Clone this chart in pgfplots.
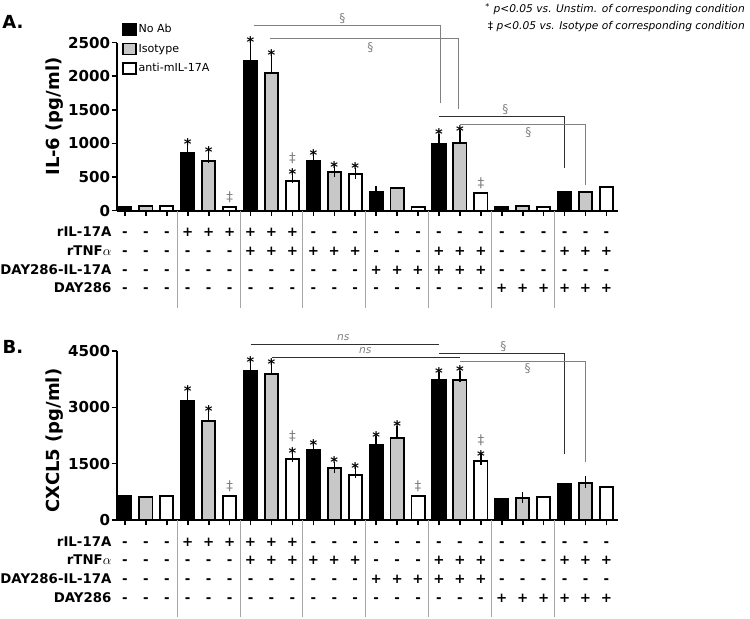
\documentclass[border=0pt]{standalone}
\usepackage{pgfplots}
\pgfplotsset{compat=1.18}
\usepackage{fontspec}
\setmainfont{DejaVu Sans}

\definecolor{isogray}{HTML}{C8C8C8}
\definecolor{sepgray}{HTML}{A6A6A6}
\definecolor{siggray}{HTML}{808080}
\definecolor{dkgray}{HTML}{303030}

% condition table under each bar
\newcommand\cond[4]{\strut#1\\\strut#2\\\strut#3\\\strut#4}
\newcommand\tabfont{\bfseries\fontsize{10}{14}\selectfont}
% significance marks (s = *, d = double dagger, b = both)
\newcommand\labs{\makebox[0pt]{\smash{\raisebox{-1.1pt}{\bfseries\fontsize{11}{12}\selectfont *}}}}
\newcommand\labd{\makebox[0pt]{\smash{\raisebox{3pt}{\color{siggray}\fontsize{10}{10}\selectfont ‡}}}}
\newcommand\labb{\makebox[0pt]{\smash{\raisebox{-2.4pt}{\bfseries\fontsize{11}{12}\selectfont *}}}\makebox[0pt]{\smash{\raisebox{10.7pt}{\color{siggray}\fontsize{10}{10}\selectfont ‡}}}}

\tikzset{
  rowlabels/.style={anchor=north east, align=right, font=\tabfont, inner sep=0pt, xshift=-4pt, yshift=-9.6pt},
}

\pgfplotsset{
  panel/.style={
    scale only axis, width=375.75pt, anchor=south west,
    xmin=0.62, xmax=24.55, ymin=0,
    axis lines*=left,
    axis line style={line width=1.5pt, black},
    tick align=outside,
    major tick length=4pt,
    every tick/.style={black, line width=1.2pt},
    clip=false,
    xtick={1,...,24},
    xticklabels={
      \cond{-}{-}{-}{-},\cond{-}{-}{-}{-},\cond{-}{-}{-}{-},
      \cond{+}{-}{-}{-},\cond{+}{-}{-}{-},\cond{+}{-}{-}{-},
      \cond{+}{+}{-}{-},\cond{+}{+}{-}{-},\cond{+}{+}{-}{-},
      \cond{-}{+}{-}{-},\cond{-}{+}{-}{-},\cond{-}{+}{-}{-},
      \cond{-}{-}{+}{-},\cond{-}{-}{+}{-},\cond{-}{-}{+}{-},
      \cond{-}{+}{+}{-},\cond{-}{+}{+}{-},\cond{-}{+}{+}{-},
      \cond{-}{-}{-}{+},\cond{-}{-}{-}{+},\cond{-}{-}{-}{+},
      \cond{-}{+}{-}{+},\cond{-}{+}{-}{+},\cond{-}{+}{-}{+}},
    xticklabel style={align=center, font=\tabfont, inner sep=0pt, yshift=-5.6pt},
    yticklabel style={font=\bfseries\fontsize{11.3}{13}\selectfont, inner sep=1pt},
    /pgf/number format/assume math mode=true,
    /pgf/number format/1000 sep={},
    scaled y ticks=false,
    legend image code/.code={\draw[#1, line width=1pt] (0pt,-4.1pt) rectangle (9.75pt,4.1pt);},
  },
  mybar/.style={ybar, bar width=9.9pt, bar shift=0pt, draw=black, line width=1.4pt, fill=#1,
    error bars/y dir=plus, error bars/y explicit,
    error bars/error bar style={line width=1.1pt, black},
    error bars/error mark options={line width=1.1pt, mark size=4.2pt, black}},
  notes/.style={forget plot, only marks, mark=none, point meta=explicit symbolic,
    nodes near coords={\csname lab\pgfplotspointmeta\endcsname},
    every node near coord/.append style={inner sep=0pt}},
}

\begin{document}
\begin{tikzpicture}
\useasboundingbox (0,0) rectangle (562.5pt,463.5pt);

% ---------------- A: IL-6 ----------------
\begin{axis}[panel, at={(87.75pt,305.5pt)}, height=126pt,
    ymax=2500, ytick={0,500,...,2500},
    ylabel={IL-6 (pg/ml)},
    ylabel style={font=\bfseries\fontsize{13.5}{15}\selectfont, at={(axis description cs:-0.124,0.56)}, anchor=center},
    legend style={at={(axis description cs:0.01,1.123)}, anchor=north west, draw=none, fill=none,
      inner sep=0pt, font=\fontsize{8.3}{9}\selectfont, row sep=4pt, nodes={inner sep=1.5pt}},
    legend cell align=left]
\addplot[mybar=black] coordinates {
  (1,55) (4,865) +- (0,50) (7,2232) +- (0,208) (10,744) +- (0,10)
  (13,274) +- (0,5) (16,993) +- (0,69) (19,55) (22,283)};
\addlegendentry{No Ab}
\addplot[mybar=isogray] coordinates {
  (2,75) (5,745) +- (0,55) (8,2054) +- (0,184) (11,571) +- (0,10)
  (14,333) (17,1012) +- (0,99) (20,65) (23,280)};
\addlegendentry{Isotype}
\addplot[mybar=white] coordinates {
  (3,75) (6,60) (9,442) +- (0,49) (12,546) +- (0,10)
  (15,50) (18,268) (21,60) (24,348)};
\addlegendentry{anti-mIL-17A}
\addplot[notes] coordinates {
  (4,915) [s] (5,800) [s] (6,60) [d] (7,2440) [s] (8,2238) [s] (9,491) [b]
  (10,754) [s] (11,581) [s] (12,556) [s] (16,1062) [s] (17,1111) [s] (18,268) [d]};

% comparison brackets
\draw[siggray, line width=0.75pt] (axis cs:7.15,2748) -- (axis cs:16.05,2748) -- (axis cs:16.05,1603);
\draw[siggray, line width=0.75pt] (axis cs:7.95,2555) -- (axis cs:16.95,2555) -- (axis cs:16.95,1513);
\draw[dkgray, line width=0.75pt] (axis cs:16,1394) -- (axis cs:22,1394) -- (axis cs:22,635);
\draw[siggray, line width=0.75pt] (axis cs:17,1275) -- (axis cs:23,1275) -- (axis cs:23,382);
\node[siggray, font=\fontsize{9}{9}\selectfont] at (axis cs:11.38,2853) {§};
\node[siggray, font=\fontsize{9}{9}\selectfont] at (axis cs:12.72,2421) {§};
\node[siggray, font=\fontsize{9}{9}\selectfont] at (axis cs:19.17,1498) {§};
\node[siggray, font=\fontsize{9}{9}\selectfont] at (axis cs:20.27,1156) {§};

% group separators and row names
\pgfplotsinvokeforeach{3.5,6.5,...,21.5}{
  \draw[sepgray, line width=0.8pt] (axis cs:#1,0) -- ++(0pt,-73pt);
}
\node[rowlabels] at (axis description cs:0,0) {\cond{rIL-17A}{rTNF$\alpha$}{DAY286-IL-17A}{DAY286}};
\node[font=\bfseries\fontsize{13.5}{14}\selectfont] at (axis description cs:-0.2076,1.126) {A.};
\node[anchor=north east, align=right, inner sep=0pt, font=\itshape\fontsize{8}{12.75}\selectfont]
  at (axis description cs:1.2535,1.236)
  {\textsuperscript{\upshape*} p<0.05 vs. Unstim. of corresponding condition\\
   {\upshape‡} p<0.05 vs. Isotype of corresponding condition};
\end{axis}

% ---------------- B: CXCL5 ----------------
\begin{axis}[panel, at={(87.75pt,73.5pt)}, height=126.75pt,
    ymax=4500, ytick={0,1500,3000,4500},
    ylabel={CXCL5 (pg/ml)},
    ylabel style={font=\bfseries\fontsize{13.5}{15}\selectfont, at={(axis description cs:-0.124,0.47)}, anchor=center}]
\addplot[mybar=black] coordinates {
  (1,650) (4,3173) +- (0,125) (7,3963) +- (0,115) (10,1854) +- (0,16)
  (13,1987) +- (0,96) (16,3732) +- (0,53) (19,550) (22,950)};
\addplot[mybar=isogray] coordinates {
  (2,620) (5,2641) +- (0,125) (8,3884) +- (0,150) (11,1383) +- (0,17)
  (14,2181) +- (0,178) (17,3732) +- (0,90) (20,585) +- (0,15) (23,984) +- (0,26)};
\addplot[mybar=white] coordinates {
  (3,635) (6,646) (9,1631) +- (0,71) (12,1205) +- (0,53)
  (15,646) (18,1561) +- (0,54) (21,612) (24,878)};
\addplot[notes] coordinates {
  (4,3298) [s] (5,2766) [s] (6,646) [d] (7,4078) [s] (8,4034) [s] (9,1702) [b]
  (10,1870) [s] (11,1400) [s] (12,1258) [s] (13,2083) [s] (14,2359) [s] (15,646) [d]
  (16,3785) [s] (17,3822) [s] (18,1615) [b]};

\draw[dkgray, line width=0.75pt] (axis cs:7,4679) -- (axis cs:16,4679);
\draw[dkgray, line width=0.75pt] (axis cs:8,4333) -- (axis cs:17,4333);
\draw[dkgray, line width=0.75pt] (axis cs:16,4439) -- (axis cs:22,4439) -- (axis cs:22,1758);
\draw[siggray, line width=0.75pt] (axis cs:17,4216) -- (axis cs:23,4216) -- (axis cs:23,1553);
\node[siggray, font=\itshape\fontsize{8}{8}\selectfont] at (axis cs:11.43,4847) {ns};
\node[siggray, font=\itshape\fontsize{8}{8}\selectfont] at (axis cs:12.48,4509) {ns};
\node[siggray, font=\fontsize{9}{9}\selectfont] at (axis cs:19.08,4615) {§};
\node[siggray, font=\fontsize{9}{9}\selectfont] at (axis cs:20.23,4021) {§};

\pgfplotsinvokeforeach{3.5,6.5,...,21.5}{
  \draw[sepgray, line width=0.8pt] (axis cs:#1,0) -- ++(0pt,-73pt);
}
\node[rowlabels] at (axis description cs:0,0) {\cond{rIL-17A}{rTNF$\alpha$}{DAY286-IL-17A}{DAY286}};
\node[font=\bfseries\fontsize{13.5}{14}\selectfont] at (axis description cs:-0.2076,1.027) {B.};
\end{axis}
\end{tikzpicture}
\end{document}
